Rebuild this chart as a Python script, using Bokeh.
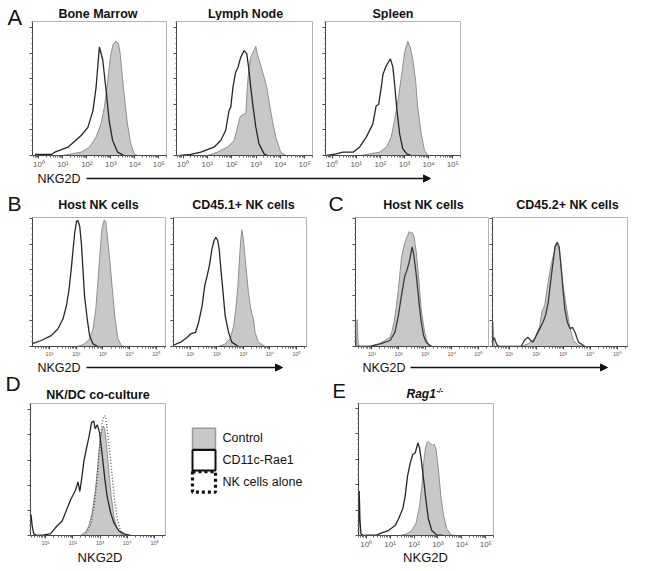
import math
from bokeh.plotting import figure
from bokeh.layouts import row, column
from bokeh.models import (Range1d, FixedTicker, SingleIntervalTicker, CustomJSTickFormatter,
                          Arrow, NormalHead, ColumnDataSource)
from bokeh.core.properties import value
from bokeh.embed import file_html
from bokeh.resources import INLINE

FONT = "Liberation Sans"

# ---------------- data: x = log10(NKG2D intensity), y = % of max ----------------
# A - Bone Marrow
bm_ctrl_e = [1.0, 1.21, 1.76, 2.11, 2.38, 2.59, 2.73, 2.84, 2.93, 3.00, 3.10, 3.21, 3.31, 3.39, 3.48, 3.58, 3.69, 3.83, 3.97, 4.10]
bm_ctrl_y = [0, 0.8, 2.6, 6.5, 14.4, 24.8, 37.9, 53.5, 69.2, 79.6, 87.5, 89.6, 88.0, 79.6, 61.4, 43.0, 24.8, 9.1, 1.3, 0]
bm_rae_e = [-0.17, 0.52, 0.66, 1.21, 1.76, 2.04, 2.25, 2.38, 2.45, 2.52, 2.66, 2.80, 2.93, 3.07, 3.28, 3.55]
bm_rae_y = [0.8, 0.8, 2.6, 6.5, 15.7, 22, 35, 53, 69, 85, 75, 51, 27, 12, 2.6, 0]
# A - Lymph Node
ln_ctrl_e = [1.0, 1.41, 1.82, 2.10, 2.34, 2.44, 2.58, 2.64, 2.71, 2.78, 2.85, 2.99, 3.05, 3.19, 3.33, 3.44, 3.53, 3.67, 3.81, 4.01, 4.22]
ln_ctrl_y = [0, 2.6, 6.5, 11.7, 30, 32, 33, 53.5, 69.2, 77, 79.6, 85.4, 79.6, 70.5, 61.4, 53.5, 43, 27.4, 14.4, 2.6, 0]
ln_rae_e = [-0.1, 0.32, 0.73, 1.27, 1.55, 1.75, 1.89, 1.96, 2.05, 2.16, 2.26, 2.37, 2.51, 2.62, 2.71, 2.78, 2.88, 2.99, 3.12, 3.33, 3.47]
ln_rae_y = [0, 0.8, 2.6, 6.5, 11.7, 19.6, 35.2, 37.9, 53.5, 65.3, 69.2, 77, 82.2, 79.6, 66.6, 53.5, 37.9, 22.2, 9.1, 1.3, 0]
# A - Spleen
sp_ctrl_e = [1.2, 1.42, 1.97, 2.25, 2.45, 2.59, 2.73, 2.87, 2.96, 3.04, 3.14, 3.24, 3.35, 3.46, 3.55, 3.69, 3.83, 3.97]
sp_ctrl_y = [0, 0.8, 2.6, 6.5, 14.4, 27.4, 43, 61.4, 74.4, 83.5, 89.6, 85, 74.4, 58.7, 37.9, 17, 3.9, 0]
sp_rae_e = [-0.23, 0.18, 0.45, 0.87, 1.14, 1.42, 1.69, 1.83, 1.93, 2.04, 2.11, 2.25, 2.42, 2.52, 2.59, 2.69, 2.80, 2.93, 3.10, 3.28]
sp_rae_y = [0, 1.3, 2.6, 2.6, 6.5, 14.4, 24.8, 39, 40, 53.5, 63.7, 70.5, 75.7, 69.2, 56.1, 35.2, 17, 5.2, 1.3, 0]
# B - Host NK cells
bh_ctrl_e = [2.06, 2.31, 2.5, 2.63, 2.73, 2.81, 2.89, 2.96, 3.05, 3.10, 3.16, 3.25, 3.34, 3.44, 3.56, 3.69, 3.81]
bh_ctrl_y = [0, 2, 6, 13.7, 29, 50, 73.6, 91.7, 99.2, 98, 87.6, 68.1, 47.4, 24, 6, 0.8, 0]
bh_rae_e = [0.3, 0.69, 1.06, 1.31, 1.5, 1.63, 1.73, 1.81, 1.88, 1.94, 2.01, 2.06, 2.13, 2.19, 2.25, 2.31, 2.41, 2.5, 2.63, 2.81]
bh_rae_y = [1.8, 4.7, 8.5, 13.7, 21.5, 31.9, 44.8, 60.4, 75.9, 88.9, 98, 98.7, 94, 81.1, 60.4, 39.6, 21.5, 8.5, 2, 0]
# B - CD45.1+ NK cells
b45_ctrl_e = [2.06, 2.31, 2.5, 2.63, 2.71, 2.79, 2.84, 2.89, 2.94, 3.0, 3.09, 3.19, 3.28, 3.38, 3.44, 3.56, 3.81]
b45_ctrl_y = [0, 2, 6, 16, 29, 47, 65, 81, 91.5, 84, 63, 42, 29, 21, 11, 3.4, 0]
b45_rae_e = [0.3, 0.63, 0.88, 1.0, 1.19, 1.31, 1.44, 1.54, 1.63, 1.71, 1.81, 1.89, 1.96, 2.03, 2.09, 2.15, 2.21, 2.31, 2.44, 2.56, 2.81]
b45_rae_y = [0.5, 3.4, 7.3, 9.8, 11, 19, 32, 47.7, 55.4, 63, 76, 83, 85.5, 83, 75, 60, 47, 24, 11, 3.4, 0]
# C - Host NK cells
ch_ctrl_e = [0.30, 0.42, 0.44, 0.48, 0.54, 0.94, 1.25, 1.49, 1.68, 1.74, 1.83, 1.90, 1.99, 2.11, 2.23, 2.32, 2.40, 2.44, 2.52, 2.58, 2.67, 2.77, 2.85, 2.98, 3.10, 3.28]
ch_ctrl_y = [0, 0.8, 21, 2, 0, 0.3, 2, 4.7, 7.3, 11, 19, 29, 44, 70, 81, 86, 90, 89, 89, 86, 73, 50, 29, 11, 2, 0]
ch_rae_e = [0.30, 0.94, 1.31, 1.68, 1.86, 1.99, 2.11, 2.23, 2.32, 2.42, 2.51, 2.57, 2.67, 2.77, 2.85, 2.94, 3.04, 3.22]
ch_rae_y = [0, 0.3, 2, 4.7, 11, 24, 40, 55, 60, 68, 78, 72, 55, 34, 19, 8.5, 3.4, 0]
# C - CD45.2+ NK cells
c45_ctrl_e = [0.30, 0.40, 0.43, 0.47, 1.44, 1.69, 1.94, 2.13, 2.21, 2.31, 2.44, 2.56, 2.66, 2.75, 2.84, 2.91, 3.0, 3.13, 3.25, 3.38, 3.56, 3.81]
c45_ctrl_y = [0, 19, 3, 0, 0, 2, 6, 16, 27, 32, 50, 65, 73, 81, 77, 65, 47, 29, 14, 4.7, 0.8, 0]
c45_rae_e = [0.30, 0.44, 0.54, 0.63, 1.44, 1.56, 1.69, 1.79, 1.88, 2.0, 2.13, 2.25, 2.34, 2.44, 2.54, 2.63, 2.69, 2.78, 2.85, 2.91, 2.98, 3.06, 3.15, 3.25, 3.34, 3.44, 3.56, 3.81]
c45_rae_y = [0, 7, 1.3, 0, 0, 4.7, 7.3, 4.7, 3.4, 8.5, 14, 19, 24, 34, 52, 67, 78, 81.6, 78, 65, 47, 29, 19, 14, 15, 11, 3.4, 0]
# D - NK/DC co-culture
d_ctrl_e = [2.28, 2.47, 2.59, 2.71, 2.83, 2.92, 2.99, 3.06, 3.12, 3.17, 3.24, 3.32, 3.41, 3.51, 3.63, 3.81, 3.99]
d_ctrl_y = [0, 2.6, 7.7, 18, 36, 56, 74, 83, 87, 85, 72, 51, 31, 15, 5, 0.5, 0]
d_rae_e = [0.40, 0.47, 0.51, 0.57, 0.69, 0.94, 1.18, 1.37, 1.61, 1.92, 2.10, 2.19, 2.26, 2.35, 2.41, 2.51, 2.59, 2.69, 2.77, 2.82, 2.90, 2.98, 3.08, 3.17, 3.26, 3.39, 3.51, 3.69, 3.87, 4.12]
d_rae_y = [0, 16.7, 7.7, 1.3, 0, 0.5, 1.3, 6.3, 11.5, 28.4, 36, 42.7, 35, 49, 59.6, 70, 78, 90, 91, 85, 88, 82, 64, 46, 31, 18, 10, 3.8, 1.3, 0]
d_alone_e = [2.41, 2.55, 2.68, 2.80, 2.90, 2.96, 3.02, 3.08, 3.14, 3.20, 3.26, 3.35, 3.45, 3.53, 3.63, 3.75, 3.94]
d_alone_y = [0, 3.8, 10, 26, 46, 64, 79, 90, 95, 95, 85, 67, 46, 28, 13, 3.8, 0]
# E - Rag1-/-
e_ctrl_e = [1.42, 1.70, 1.91, 2.09, 2.23, 2.33, 2.40, 2.47, 2.53, 2.60, 2.70, 2.79, 2.84, 2.92, 3.02, 3.12, 3.23, 3.37, 3.54, 3.72]
e_ctrl_y = [0, 1.3, 3.9, 10, 23, 39, 57, 68, 73, 74, 72, 71, 72, 68, 52, 31, 16, 5, 0.5, 0]
e_rae_e = [-0.32, -0.29, -0.26, -0.22, -0.11, 0.45, 0.65, 0.93, 1.21, 1.35, 1.53, 1.63, 1.73, 1.84, 1.95, 2.05, 2.16, 2.23, 2.30, 2.40, 2.51, 2.60, 2.74, 2.95, 3.23]
e_rae_y = [0, 35, 13, 1.3, 0, 0.5, 2, 3.9, 7.8, 13, 21, 31, 47, 57, 64, 65, 73, 69, 60, 44, 26, 13, 4, 0.5, 0]

legend_labels = ["Control", "CD11c-Rae1", "NK cells alone"]

# ---------------- styling ----------------
CTRL_FILL = "#c8c8c8"
CTRL_LINE = "#8e8e8e"
RAE_LINE = "#262626"
ALONE_LINE = "#5a5a5a"
TXT = "#111111"
W = 640

SUP_JS = """
const e = Math.round(Math.log10(tick));
const d = ['\\u2070','\\u00b9','\\u00b2','\\u00b3','\\u2074','\\u2075'];
return '10' + ((e >= 0 && e < d.length) ? d[e] : '');
"""


def lin(e):
    return [10.0 ** v for v in e]


def make_panel(width, height, border, xlim, ytop, tick_font):
    left, right, top, bottom = border
    p = figure(width=width, height=height, x_axis_type="log",
               x_range=Range1d(10 ** xlim[0], 10 ** xlim[1]), y_range=Range1d(0, ytop),
               output_backend="svg", toolbar_location=None, title=None,
               min_border_left=left, min_border_right=right,
               min_border_top=top, min_border_bottom=bottom)
    p.grid.visible = False
    p.outline_line_color = "#b3b3b3"
    p.outline_line_width = 1
    lo, hi = xlim
    majors = [10.0 ** k for k in range(math.ceil(lo), math.floor(hi) + 1)]
    minors = [m * 10.0 ** k for k in range(math.floor(lo), math.ceil(hi) + 1) for m in range(2, 10)]
    xa = p.xaxis[0]
    xa.ticker = FixedTicker(ticks=majors, minor_ticks=minors)
    xa.formatter = CustomJSTickFormatter(code=SUP_JS)
    xa.major_label_text_font = FONT
    xa.major_label_text_font_size = tick_font
    xa.major_label_text_color = "#555555"
    xa.major_label_standoff = 1
    xa.major_tick_out = 3
    xa.major_tick_in = 0
    xa.minor_tick_out = 2
    xa.minor_tick_in = 0
    xa.axis_line_color = "#444444"
    xa.major_tick_line_color = "#444444"
    xa.minor_tick_line_color = "#666666"
    ya = p.yaxis[0]
    ya.ticker = SingleIntervalTicker(interval=20, num_minor_ticks=5)
    ya.formatter = CustomJSTickFormatter(code="return '';")
    ya.major_label_text_font_size = "0px"
    ya.major_label_standoff = 0
    ya.major_tick_out = 3
    ya.major_tick_in = 0
    ya.minor_tick_out = 1
    ya.minor_tick_in = 0
    ya.axis_line_color = "#444444"
    ya.major_tick_line_color = "#444444"
    ya.minor_tick_line_color = "#666666"
    return p


def draw_filled(p, e, y):
    src = ColumnDataSource(dict(x=lin(e), y=y))
    p.varea(x="x", y1=0, y2="y", source=src, fill_color=CTRL_FILL)
    p.line(x="x", y="y", source=src, line_color=CTRL_LINE, line_width=1)


def draw_open(p, e, y, color=RAE_LINE, dash="solid", width=1.3):
    src = ColumnDataSource(dict(x=lin(e), y=y))
    p.line(x="x", y="y", source=src, line_color=color, line_width=width, line_dash=dash)


def strip(width, height):
    s = figure(width=width, height=height, x_range=Range1d(0, width), y_range=Range1d(height, 0),
               x_axis_type=None, y_axis_type=None, output_backend="svg",
               toolbar_location=None, title=None, min_border=0)
    s.outline_line_color = None
    return s


def stext(s, x, y, text, size, style="normal", align="left"):
    # y is the vertical centre of the capital letters
    s.text(x=[x], y=[y], text=[text], text_font=value(FONT), text_font_size=size,
           text_font_style=style, text_align=align, text_baseline="middle", text_color=TXT)


def nkg2d_arrow(s, tx, ty, x0, x1):
    stext(s, tx, ty, "NKG2D", "12.5px")
    s.add_layout(Arrow(end=NormalHead(size=7, fill_color=TXT, line_color=TXT, line_width=1),
                       x_start=x0, y_start=ty, x_end=x1, y_end=ty,
                       line_color=TXT, line_width=1.6))


XA = (-0.27, 5.32)
XB = (0.36, 5.38)
XC = (0.38, 5.38)
XD = (0.45, 5.40)
XE = (-0.32, 5.32)
TITLE = "12.5px"
TICK_BIG = "8px"
TICK_SMALL = "5.5px"

# ---------------- row A ----------------
LW = 26  # width of the strip holding the letter "A"
letterA = strip(LW, 172)
stext(letterA, 7, 16.5, "A", "22px")

topA = strip(W - LW, 20)
stext(topA, 97.5 - LW, 13, "Bone Marrow", TITLE, "bold", "center")
stext(topA, 245 - LW, 13, "Lymph Node", TITLE, "bold", "center")
stext(topA, 392.5 - LW, 13, "Spleen", TITLE, "bold", "center")

bm = make_panel(142, 152, (6, 2, 1, 17), XA, 105, TICK_BIG)
draw_filled(bm, bm_ctrl_e, bm_ctrl_y)
draw_open(bm, bm_rae_e, bm_rae_y)

ln = make_panel(146, 152, (8, 2, 1, 17), XA, 105, TICK_BIG)
draw_filled(ln, ln_ctrl_e, ln_ctrl_y)
draw_open(ln, ln_rae_e, ln_rae_y)

sp = make_panel(326, 152, (11, 180, 1, 17), XA, 105, TICK_BIG)
draw_filled(sp, sp_ctrl_e, sp_ctrl_y)
draw_open(sp, sp_rae_e, sp_rae_y)

blockA = row(letterA, column(topA, row(bm, ln, sp)))

stripA = strip(W, 16)
nkg2d_arrow(stripA, 37, 6, 86, 430)

# ---------------- row B / C ----------------
topBC = strip(W, 28)
stext(topBC, 7, 14.5, "B", "21px")
stext(topBC, 328, 14.5, "C", "21px")
stext(topBC, 98, 16.5, "Host NK cells", TITLE, "bold", "center")
stext(topBC, 243, 16.5, "CD45.1+ NK cells", TITLE, "bold", "center")
stext(topBC, 423, 16.5, "Host NK cells", TITLE, "bold", "center")
stext(topBC, 567, 16.5, "CD45.2+ NK cells", TITLE, "bold", "center")

b1 = make_panel(166, 143, (32, 0, 1, 13), XB, 101, TICK_SMALL)
draw_filled(b1, bh_ctrl_e, bh_ctrl_y)
draw_open(b1, bh_rae_e, bh_rae_y)

b2 = make_panel(154, 143, (7, 14, 1, 13), XB, 101, TICK_SMALL)
draw_filled(b2, b45_ctrl_e, b45_ctrl_y)
draw_open(b2, b45_rae_e, b45_rae_y)

c1 = make_panel(169, 143, (35, 1, 1, 13), XC, 101, TICK_SMALL)
draw_filled(c1, ch_ctrl_e, ch_ctrl_y)
draw_open(c1, ch_rae_e, ch_rae_y, color="#3a3a3a")

c2 = make_panel(151, 143, (3, 13, 1, 13), XC, 101, TICK_SMALL)
draw_filled(c2, c45_ctrl_e, c45_ctrl_y)
draw_open(c2, c45_rae_e, c45_rae_y, color="#3a3a3a")

# ---------------- strip between B/C and D/E ----------------
mid = strip(W, 43)
nkg2d_arrow(mid, 37, 8, 86, 282)
nkg2d_arrow(mid, 362, 8, 410, 607)
stext(mid, 5, 23.5, "D", "21px")
stext(mid, 332, 31, "E", "20px")
stext(mid, 97.5, 35.5, "NK/DC co-culture", TITLE, "bold", "center")
stext(mid, 406, 34, "Rag1", "12px", "bold italic")
stext(mid, 436, 31, "-/-", "7px", "bold italic")

# ---------------- row D / E ----------------
d = make_panel(168, 149, (30, 3, 1, 13), XD, 105, TICK_SMALL)
draw_filled(d, d_ctrl_e, d_ctrl_y)
draw_open(d, d_alone_e, d_alone_y, color=ALONE_LINE, dash="1 2", width=1.4)
draw_open(d, d_rae_e, d_rae_y)

# legend block (between panels D and E)
leg = strip(162, 149)
LX, LY, LS, LP = 24, 28, 23, 24.5
leg_styles = [dict(fill_color=CTRL_FILL, line_color="#9a9a9a", line_width=1.5, line_dash="solid"),
              dict(fill_color="white", line_color=TXT, line_width=2, line_dash="solid"),
              dict(fill_color=None, line_color=TXT, line_width=3.2, line_dash="3 3")]
for i, (lab, st) in enumerate(zip(legend_labels, leg_styles)):
    top = LY + i * LP
    leg.quad(left=[LX], right=[LX + LS], top=[top], bottom=[top + LS], **st)
    stext(leg, LX + LS + 7, top + LS / 2, lab, "12.5px")

e = make_panel(310, 149, (28, 147, 1, 13), XE, 104, TICK_BIG)
draw_filled(e, e_ctrl_e, e_ctrl_y)
draw_open(e, e_rae_e, e_rae_y)

botDE = strip(W, 19)
stext(botDE, 99.5, 6, "NKG2D", "13px", align="center")
stext(botDE, 425, 6, "NKG2D", "13px", align="center")

layout = column(blockA, stripA,
                topBC, row(b1, b2, c1, c2), mid,
                row(d, leg, e), botDE)

open("out.html", "w", encoding="utf-8").write(file_html(layout, INLINE))
